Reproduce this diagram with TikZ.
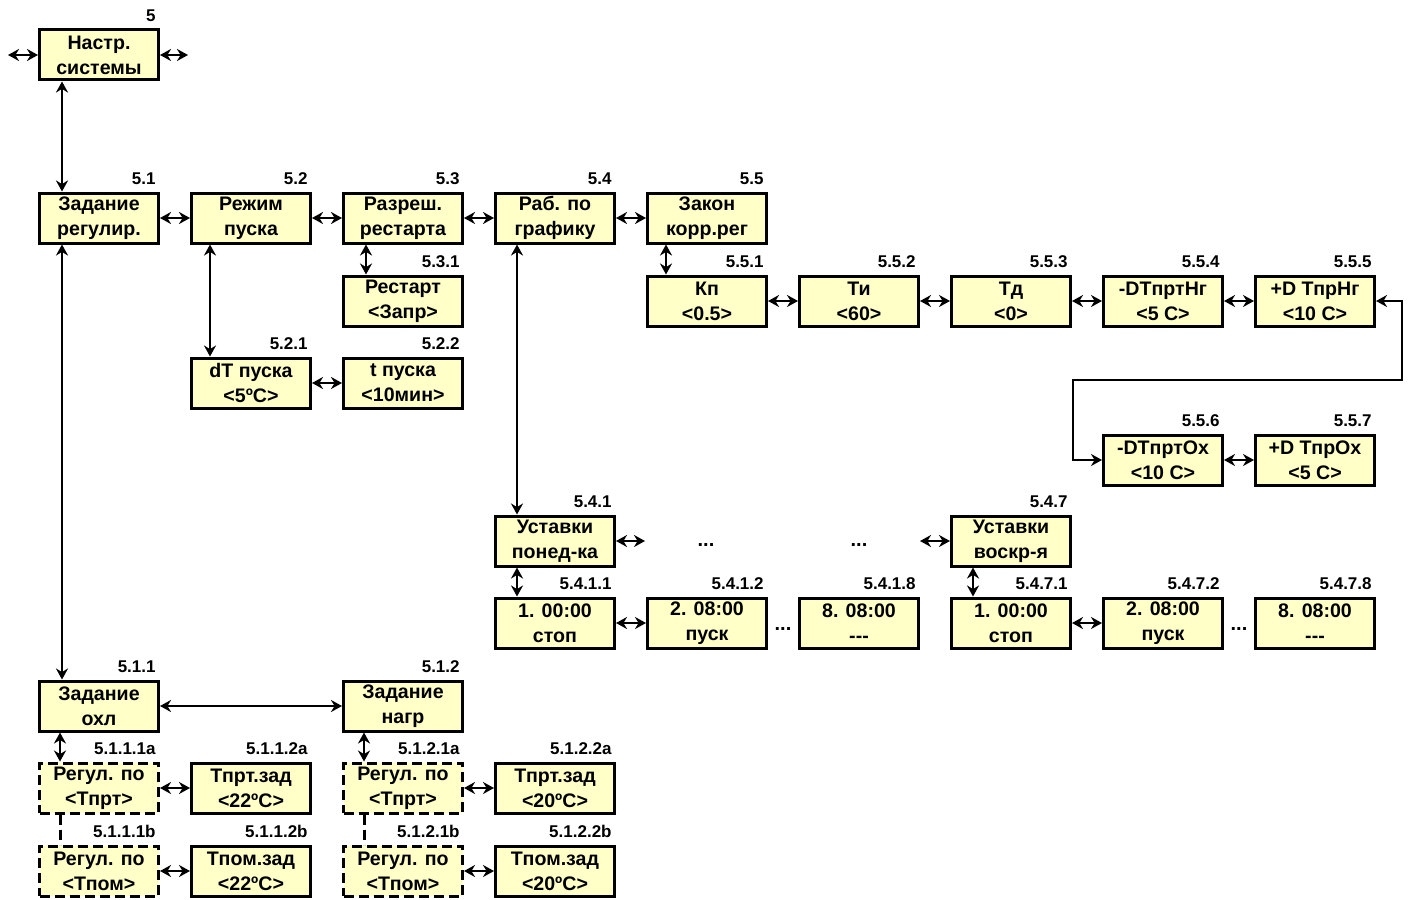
\documentclass[tikz,border=0pt]{standalone}
\usepackage{fontspec}
\setmainfont{Liberation Sans}
\usetikzlibrary{arrows.meta}
\definecolor{boxfill}{RGB}{255,255,200}
\begin{document}
\begin{tikzpicture}[x=0.5pt, y=-0.5pt, >={Stealth[length=5.5pt, width=6pt]},
  box/.style={draw, line width=1.5pt, fill=boxfill, minimum width=59.5pt, minimum height=25pt, inner sep=1pt, align=center, font=\fontsize{9.8}{12.5}\selectfont\bfseries},
  dbox/.style={box, dash pattern=on 5pt off 2.5pt},
  num/.style={inner sep=0pt, anchor=south east, xshift=-2pt, yshift=3pt, font=\fontsize{8.5}{9}\selectfont\bfseries},
  con/.style={<->, line width=1.4pt},
  dots/.style={inner sep=0pt, font=\fontsize{10}{11}\selectfont\bfseries}]
\useasboundingbox (0,0) rectangle (1411,899);

\node[box, label={[num]north east:5}] (n5) at (99,55) {Настр.\\системы};
\node[box, label={[num]north east:5.1}] (n51) at (99,218) {Задание\\регулир.};
\node[box, label={[num]north east:5.2}] (n52) at (251,218) {Режим\\пуска};
\node[box, label={[num]north east:5.3}] (n53) at (403,218) {Разреш.\\рестарта};
\node[box, label={[num]north east:5.4}] (n54) at (555,218) {Раб. по\\графику};
\node[box, label={[num]north east:5.5}] (n55) at (707,218) {Закон\\корр.рег};
\node[box, label={[num]north east:5.3.1}] (n531) at (403,301) {Рестарт\\<Запр>};
\node[box, label={[num]north east:5.2.1}] (n521) at (251,383) {dT пуска\\<5ºC>};
\node[box, label={[num]north east:5.2.2}] (n522) at (403,383) {t пуска\\<10мин>};
\node[box, label={[num]north east:5.5.1}] (n551) at (707,301) {Кп\\<0.5>};
\node[box, label={[num]north east:5.5.2}] (n552) at (859,301) {Ти\\<60>};
\node[box, label={[num]north east:5.5.3}] (n553) at (1011,301) {Тд\\<0>};
\node[box, label={[num]north east:5.5.4}] (n554) at (1163,301) {-DTпртНг\\<5 C>};
\node[box, label={[num]north east:5.5.5}] (n555) at (1315,301) {+D ТпрНг\\<10 C>};
\node[box, label={[num]north east:5.5.6}] (n556) at (1163,460) {-DTпртОх\\<10 C>};
\node[box, label={[num]north east:5.5.7}] (n557) at (1315,460) {+D ТпрОх\\<5 C>};
\node[box, label={[num]north east:5.4.1}] (n541) at (555,541) {Уставки\\понед-ка};
\node[box, label={[num]north east:5.4.7}] (n547) at (1011,541) {Уставки\\воскр-я};
\node[box, label={[num]north east:5.4.1.1}] (n5411) at (555,623) {1. 00:00\\стоп};
\node[box, label={[num]north east:5.4.1.2}] (n5412) at (707,623) {2. 08:00\\пуск};
\node[box, label={[num]north east:5.4.1.8}] (n5418) at (859,623) {8. 08:00\\{-}{-}{-}};
\node[box, label={[num]north east:5.4.7.1}] (n5471) at (1011,623) {1. 00:00\\стоп};
\node[box, label={[num]north east:5.4.7.2}] (n5472) at (1163,623) {2. 08:00\\пуск};
\node[box, label={[num]north east:5.4.7.8}] (n5478) at (1315,623) {8. 08:00\\{-}{-}{-}};
\node[box, label={[num]north east:5.1.1}] (n511) at (99,706) {Задание\\охл};
\node[box, label={[num]north east:5.1.2}] (n512) at (403,706) {Задание\\нагр};
\node[dbox, label={[num]north east:5.1.1.1a}] (n5111a) at (99,788) {Регул. по\\<Тпрт>};
\node[box, label={[num]north east:5.1.1.2a}] (n5112a) at (251,788) {Тпрт.зад\\<22ºC>};
\node[dbox, label={[num]north east:5.1.1.1b}] (n5111b) at (99,871) {Регул. по\\<Тпом>};
\node[box, label={[num]north east:5.1.1.2b}] (n5112b) at (251,871) {Тпом.зад\\<22ºC>};
\node[dbox, label={[num]north east:5.1.2.1a}] (n5121a) at (403,788) {Регул. по\\<Тпрт>};
\node[box, label={[num]north east:5.1.2.2a}] (n5122a) at (555,788) {Тпрт.зад\\<20ºC>};
\node[dbox, label={[num]north east:5.1.2.1b}] (n5121b) at (403,871) {Регул. по\\<Тпом>};
\node[box, label={[num]north east:5.1.2.2b}] (n5122b) at (555,871) {Тпом.зад\\<20ºC>};

\node[dots] (d1) at (706,545) {...};
\node[dots] (d2) at (859,545) {...};
\node[dots] (d3) at (783,629) {...};
\node[dots] (d4) at (1239,629) {...};

\coordinate (l5) at (8,55);
\coordinate (r5) at (188,55);
\coordinate (e541) at (645,541);
\coordinate (w547) at (920,541);
\coordinate (k1) at (1402,380);
\coordinate (k2) at (1073,380);

\draw[con] (l5) -- (n5.west);
\draw[con] (n5.east) -- (r5);
\draw[con] ([xshift=12pt]n5.south west) -- ([xshift=12pt]n51.north west);
\foreach \a/\b in {n51/n52, n52/n53, n53/n54, n54/n55, n551/n552, n552/n553, n553/n554, n554/n555, n521/n522, n556/n557, n5411/n5412, n5471/n5472, n511/n512, n5111a/n5112a, n5111b/n5112b, n5121a/n5122a, n5121b/n5122b}
  \draw[con] (\a.east) -- (\b.west);
\draw[con] ([xshift=12pt]n53.south west) -- ([xshift=12pt]n531.north west);
\draw[con] ([xshift=10pt]n52.south west) -- ([xshift=10pt]n521.north west);
\draw[con] ([xshift=10pt]n55.south west) -- ([xshift=10pt]n551.north west);
\draw[con] (n555.east) -| (k1) -- (k2) |- (n556.west);
\draw[con] ([xshift=11.5pt]n54.south west) -- ([xshift=11.5pt]n541.north west);
\draw[con] (n541.east) -- (e541);
\draw[con] (w547) -- (n547.west);
\draw[con] ([xshift=11.5pt]n541.south west) -- ([xshift=11.5pt]n5411.north west);
\draw[con] ([xshift=11.5pt]n547.south west) -- ([xshift=11.5pt]n5471.north west);
\draw[con] ([xshift=12pt]n51.south west) -- ([xshift=12pt]n511.north west);
\draw[con] ([xshift=11pt]n511.south west) -- ([xshift=11pt]n5111a.north west);
\draw[con] ([xshift=11pt]n512.south west) -- ([xshift=11pt]n5121a.north west);
\draw[line width=1.5pt, dash pattern=on 5pt off 2.5pt] ([xshift=11pt]n5111a.south west) -- ([xshift=11pt]n5111b.north west);
\draw[line width=1.5pt, dash pattern=on 5pt off 2.5pt] ([xshift=11pt]n5121a.south west) -- ([xshift=11pt]n5121b.north west);

\end{tikzpicture}
\end{document}
